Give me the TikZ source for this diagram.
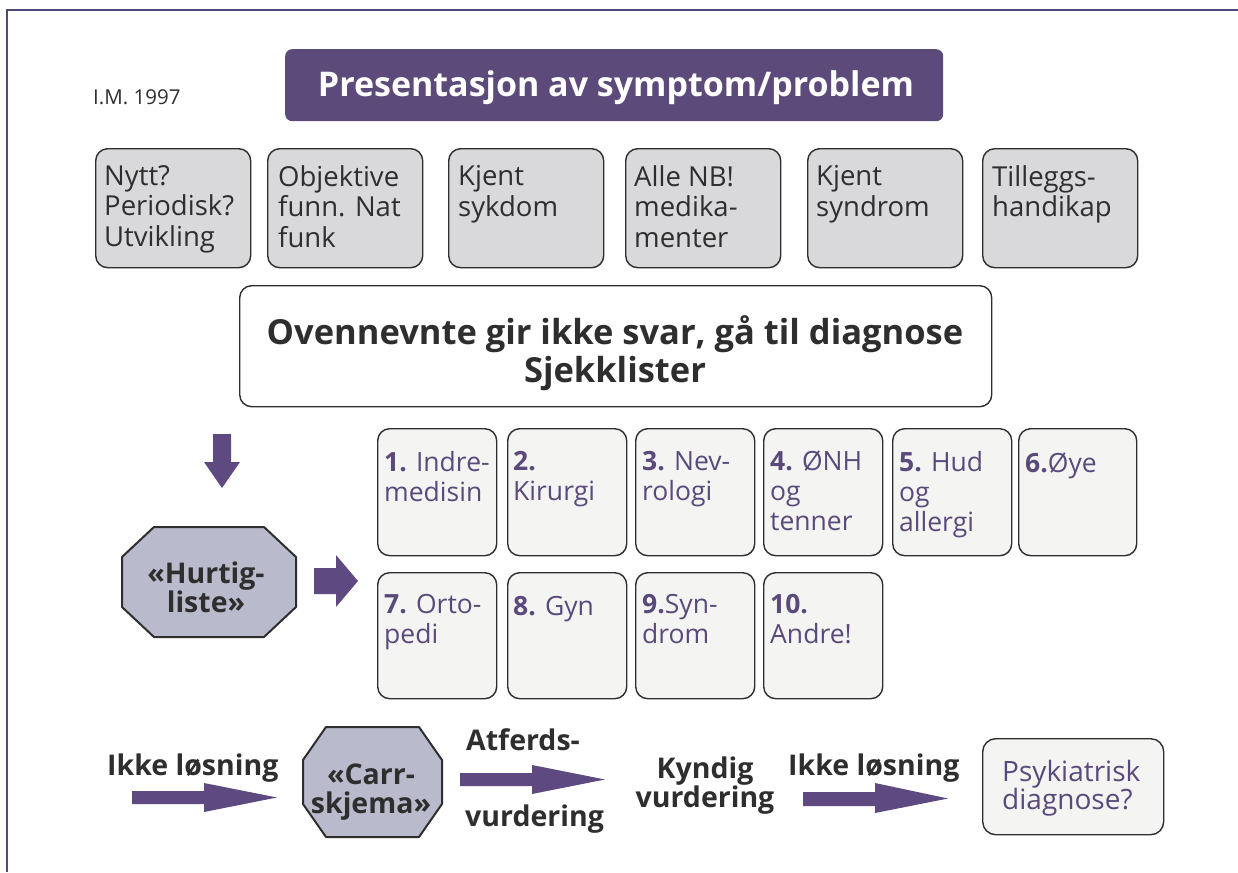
\documentclass[tikz,border=0pt]{standalone}
\usepackage{fontspec}
\setmainfont{Open Sans}
\definecolor{pur}{HTML}{5C4B7A}
\definecolor{arr}{HTML}{5E4A80}
\definecolor{txt}{HTML}{2E2E2E}
\definecolor{gbox}{HTML}{D9D9DC}
\definecolor{octc}{HTML}{B9BACB}
\definecolor{lbox}{HTML}{F4F4F2}
\definecolor{ptxt}{HTML}{5A4A7C}
\definecolor{framec}{HTML}{4E4A7C}
\begin{document}
\begin{tikzpicture}[x=1pt,y=-1pt,
  gbx/.style={draw=txt, line width=1.4pt, fill=gbox, rounded corners=12pt, anchor=north west, minimum width=155pt, minimum height=119pt, inner sep=0pt},
  lbx/.style={draw=txt, line width=1.4pt, fill=lbox, rounded corners=12pt, anchor=north west, minimum width=119pt, minimum height=127pt, inner sep=0pt},
  ml/.style={align=left, inner sep=0pt, anchor=north west, execute at begin node=\strut},
  rowtxt/.style={ml, text=txt, font=\fontsize{27.5}{30.5}\selectfont},
  gridtxt/.style={ml, text=ptxt, font=\fontsize{26.5}{30}\selectfont},
  bt/.style={text=txt, font=\bfseries\fontsize{28.5}{29}\selectfont, inner sep=0pt},
  octo/.style={draw=txt, line width=2pt, fill=octc, line join=round},
  blk/.style={fill=arr, draw=none}
]
\useasboundingbox (0,0) rectangle (1238,872);
\fill[white] (0,0) rectangle (1238,872);
\draw[framec, line width=2.2pt] (7,872) -- (7,10) -- (1238,10);

\node[anchor=base west, inner sep=0pt, text=txt, font=\fontsize{20.5}{22}\selectfont] (im) at (93,105) {I.M. 1997};

% title
\node[fill=pur, rounded corners=7pt, anchor=north west, minimum width=658pt, minimum height=72pt, inner sep=0pt] (title) at (285,49) {};
\node[anchor=base, inner sep=0pt, text=white, font=\bfseries\fontsize{34}{36}\selectfont] (titletxt) at (616,97) {Presentasjon av symptom/problem};

% row 1
\node[gbx] (b1) at (95,148) {};
\node[gbx] (b2) at (267,148) {};
\node[gbx] (b3) at (448,148) {};
\node[gbx] (b4) at (625,148) {};
\node[gbx] (b5) at (807,148) {};
\node[gbx] (b6) at (982,148) {};
\node[rowtxt] (t1) at (104,165.2) {Nytt?\\Periodisk?\\Utvikling};
\node[rowtxt] (t2) at (278,165.2) {Objektive\\funn. Nat\\funk};
\node[rowtxt] (t3) at (458,165.2) {Kjent\\sykdom};
\node[rowtxt] (t4) at (634,165.2) {Alle NB!\\medika-\\menter};
\node[rowtxt] (t5) at (816,165.2) {Kjent\\syndrom};
\node[rowtxt] (t6) at (992,165.2) {Tilleggs-\\handikap};

% middle box
\node[draw=txt, line width=1.4pt, fill=white, rounded corners=12pt, anchor=north west, minimum width=752pt, minimum height=121pt, inner sep=0pt] (mid) at (239,285) {};
\node[align=center, inner sep=0pt, anchor=north, text=txt, font=\bfseries\fontsize{34.5}{38}\selectfont, execute at begin node=\strut] (midtxt) at (615,315.4) {Ovennevnte gir ikke svar, gå til diagnose\\Sjekklister};

% down arrow
\fill[blk] (213,434) -- (231,434) -- (231,462) -- (240,462) -- (222,488) -- (204,462) -- (213,462) -- cycle;

% Hurtigliste octagon
\draw[octo] (154,527) -- (264,527) -- (296,557) -- (296,607) -- (264,637) -- (154,637) -- (122,607) -- (122,557) -- cycle;
\node[align=center, inner sep=0pt, anchor=north, bt, execute at begin node=\strut] (hurt) at (206,561.7) {«Hurtig-\\liste»};

% right arrow
\fill[blk] (314,568) -- (336,568) -- (336,555) -- (358,581) -- (336,607) -- (336,594) -- (314,594) -- cycle;

% grid
\node[lbx] (g1) at (377,428) {};
\node[lbx] (g2) at (507,428) {};
\node[lbx] (g3) at (635,428) {};
\node[lbx] (g4) at (763,428) {};
\node[lbx] (g5) at (892,428) {};
\node[lbx, minimum width=118pt] (g6) at (1018,428) {};
\node[lbx, minimum height=126pt] (g7) at (377,572) {};
\node[lbx, minimum height=126pt] (g8) at (507,572) {};
\node[lbx, minimum height=126pt] (g9) at (635,572) {};
\node[lbx, minimum height=126pt] (g10) at (763,572) {};
\node[gridtxt] (gt1) at (384,451) {\textbf{1.} Indre-\\medisin};
\node[gridtxt] (gt2) at (513,451) {\textbf{2.}\\Kirurgi};
\node[gridtxt] (gt3) at (642,451) {\textbf{3.} Nev-\\rologi};
\node[gridtxt] (gt4) at (770,451) {\textbf{4.} ØNH\\og\\tenner};
\node[gridtxt] (gt5) at (899,451) {\textbf{5.} Hud\\og\\allergi};
\node[gridtxt] (gt6) at (1025,451) {\textbf{6.}Øye};
\node[gridtxt] (gt7) at (384,594) {\textbf{7.} Orto-\\pedi};
\node[gridtxt] (gt8) at (513,594) {\textbf{8.} Gyn};
\node[gridtxt] (gt9) at (642,594) {\textbf{9.}Syn-\\drom};
\node[gridtxt] (gt10) at (770,594) {\textbf{10.}\\Andre!};

% bottom row
\node[bt, anchor=base west] (ikke1) at (107,775) {Ikke løsning};
\fill[blk] (132,791) -- (204,791) -- (204,783) -- (277,797.5) -- (204,812) -- (204,804) -- (132,804) -- cycle;
\draw[octo] (326,727) -- (419,727) -- (442,760) -- (442,804) -- (419,837) -- (326,837) -- (303,804) -- (303,760) -- cycle;
\node[align=center, inner sep=0pt, anchor=north, bt, execute at begin node=\strut] (carr) at (371,763.7) {«Carr-\\skjema»};
\node[bt, anchor=base west] (atf) at (466,750) {Atferds-};
\fill[blk] (460,773) -- (532,773) -- (532,765) -- (605,779.5) -- (532,794) -- (532,786) -- (460,786) -- cycle;
\node[bt, anchor=base west] (vurd1) at (465,826) {vurdering};
\node[align=center, inner sep=0pt, anchor=north, bt, execute at begin node=\strut] (kynd) at (705,756.7) {Kyndig\\vurdering};
\node[bt, anchor=base west] (ikke2) at (788,775) {Ikke løsning};
\fill[blk] (803,792) -- (875,792) -- (875,783) -- (948,798.5) -- (875,813) -- (875,806) -- (803,806) -- cycle;
\node[draw=txt, line width=1.4pt, fill=lbox, rounded corners=13pt, anchor=north west, minimum width=181pt, minimum height=96pt, inner sep=0pt] (psy) at (982,738) {};
\node[ml, text=ptxt, font=\fontsize{28}{28}\selectfont] (psytxt) at (1002,760.4) {Psykiatrisk\\diagnose?};
\end{tikzpicture}
\end{document}
